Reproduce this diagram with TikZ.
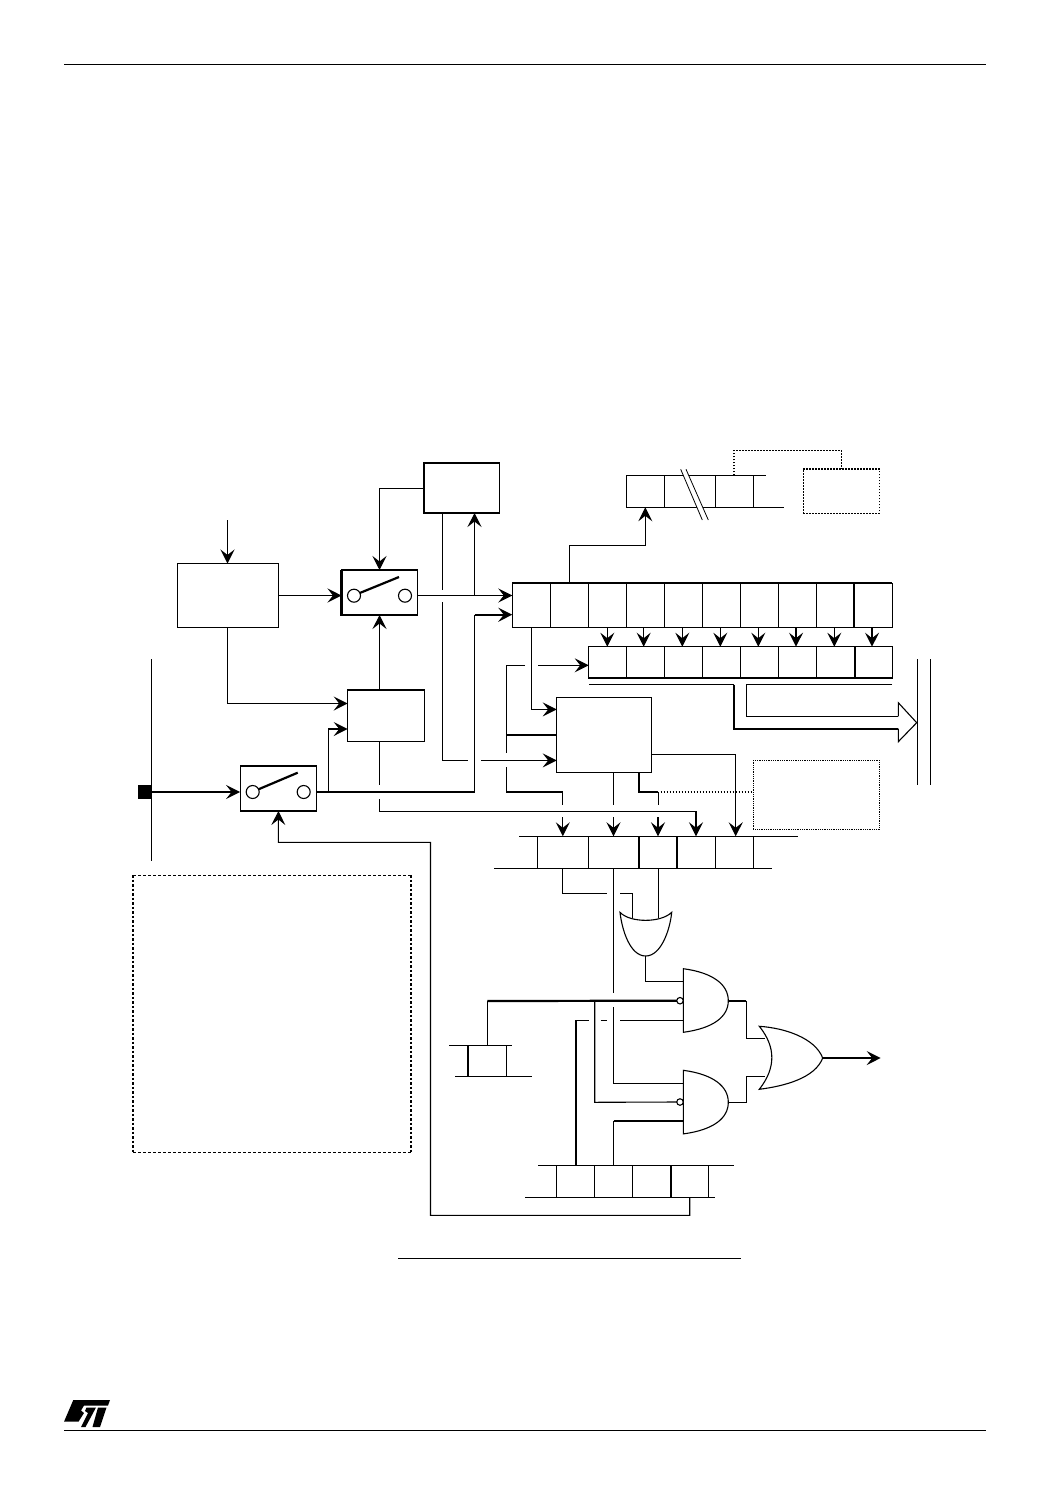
\documentclass[tikz,border=0pt]{standalone}
\usepackage{tikz}
\usetikzlibrary{arrows.meta,calc,shapes}

\begin{document}
\begin{tikzpicture}[
    x=1pt, y=-1pt,
    line width=1.1pt,
    box/.style={rectangle, draw, inner sep=0pt, outer sep=0pt, fill=white},
    knob/.style={circle, draw, inner sep=0pt, outer sep=0pt, minimum size=13pt, fill=white},
    bubble/.style={circle, draw, inner sep=0pt, outer sep=0pt, minimum size=6.5pt, fill=white},
    arrow/.style={-{Stealth[length=14pt, width=14pt, inset=5.5pt]}},
    heavy/.style={line width=2.2pt},
    hair/.style={line width=0.8pt},
    dotline/.style={dash pattern=on 1.6pt off 1.4pt},
    rule/.style={line width=1pt}
]
\useasboundingbox (0,0) rectangle (1048,1488);

% Page rules
\coordinate (headl) at (64,65);
\coordinate (headr) at (986,65);
\coordinate (footl) at (64,1430);
\coordinate (footr) at (986,1430);
\coordinate (captl) at (398,1258);
\coordinate (captr) at (741,1258);
\draw[rule] (headl) -- (headr);
\draw[rule] (footl) -- (footr);
\draw[rule] (captl) -- (captr);

% Logo
\fill (73.3,1400) -- (110,1400) -- (108,1405.5) -- (84,1405.5) -- (81,1410.5) -- (84,1413) -- (78.5,1421.7) -- (64,1421.7) -- cycle;
\fill (86.5,1407.5) -- (96,1407.5) -- (92,1415) -- (85.5,1427) -- (81,1427) -- (88,1413) -- (85,1411) -- cycle;
\fill (98,1407.5) -- (106.5,1407.5) -- (100,1427) -- (92.5,1427) -- cycle;

% Main blocks
\node[box, minimum width=101pt, minimum height=64pt] (trigger) at (228,595.5) {};
\node[box, minimum width=75.5pt, minimum height=50pt] (latch) at (461.7,488) {};
\node[box, minimum width=76pt, minimum height=45pt] (swone) at (379.5,592.5) {};
\node[box, minimum width=76.6pt, minimum height=51.7pt] (edge) at (386,715.8) {};
\node[box, minimum width=76.6pt, minimum height=45pt] (swtwo) at (278.4,788.5) {};
\node[box, minimum width=95pt, minimum height=75pt] (mode) at (604.2,734.8) {};
\draw[heavy] (swone.north west) -- (swone.south west) -- (swone.south east);
\draw[heavy] (latch.north west) -- (latch.north east);

% Switches
\node[knob] (swonea) at (354,595.7) {};
\node[knob] (swoneb) at (405,595.7) {};
\coordinate (swoneend) at (399,577);
\draw[heavy] (swonea.25) -- (swoneend);
\node[knob] (swtwoa) at (252.7,792) {};
\node[knob] (swtwob) at (303.7,792) {};
\coordinate (swtwoend) at (297.7,772.7);
\draw[heavy] (swtwoa.25) -- (swtwoend);

% Pin and bus
\coordinate (pinbust) at (151.5,659);
\coordinate (pinbusb) at (151.5,861);
\draw (pinbust) -- (pinbusb);
\node[box, fill=black, minimum size=13.5pt] (pad) at (144.8,792) {};
\draw[arrow, heavy] (pad.east) -- (pad.east -| swtwo.west);

% Registers
\foreach \i in {0,...,9}
    \node[box, minimum width=38pt, minimum height=44.3pt] (ra\i) at ({531.3+38*\i},605.2) {};
\foreach \i in {0,...,7}
    \node[box, minimum width=38pt, minimum height=31.3pt] (rb\i) at ({607.7+38*\i},662.3) {};
\foreach \n/\x/\w in {0/645.3/38, 1/690/51.4, 2/734.5/37.6}
    \node[box, minimum width=\w pt, minimum height=32pt] (rc\n) at (\x,491.3) {};
\foreach \n/\x/\w in {0/562.8/51, 1/613.7/50.7, 2/658/38, 3/696.3/38.7, 4/734.5/37.6}
    \node[box, minimum width=\w pt, minimum height=32pt] (rd\n) at (\x,852.3) {};
\node[box, minimum width=38.4pt, minimum height=31pt] (re0) at (487.5,1060.8) {};
\foreach \i in {0,...,3}
    \node[box, minimum width=38pt, minimum height=32pt] (rf\i) at ({575.7+38*\i},1181.3) {};

\draw[heavy] (ra0.north west) -- (ra9.north east);
\draw[heavy] (ra9.north west) -- (ra9.south west);
\draw[heavy] (rb0.south west) -- (rb7.south east);
\draw[heavy] (rb7.north west) -- (rb7.south west);
\draw[heavy] (rd2.north west) -- (rd2.south west);
\draw[heavy] (rd3.north west) -- (rd3.south west);
\draw[heavy] (re0.north west) -- (re0.south west);
\draw[heavy] (rf3.north west) -- (rf3.south west);

% Register tails
\coordinate (rcta) at (766,475.3);
\coordinate (rctb) at (784,507.3);
\draw (rc2.north east) -- (rcta);
\draw (rc2.south east) -- (rctb);
\coordinate (rdl1) at (519,836.3);
\coordinate (rdr1) at (798,836.3);
\coordinate (rdl2) at (494,868.3);
\coordinate (rdr2) at (772,868.3);
\draw (rdl1) -- (rdr1);
\draw (rdl2) -- (rdr2);
\coordinate (rel1) at (449,1045.3);
\coordinate (rer1) at (511.7,1045.3);
\coordinate (rel2) at (455,1076.3);
\coordinate (rer2) at (531.7,1076.3);
\draw (rel1) -- (rer1);
\draw (rel2) -- (rer2);
\coordinate (rfl1) at (538.3,1165.3);
\coordinate (rfr1) at (734,1165.3);
\coordinate (rfl2) at (525,1197.3);
\coordinate (rfr2) at (715,1197.3);
\draw (rfl1) -- (rfr1);
\draw (rfl2) -- (rfr2);

% Break mark
\coordinate (brka) at (680.7,469.3);
\coordinate (brkb) at (702.3,520);
\coordinate (brkc) at (686,469.3);
\coordinate (brkd) at (708.3,520);
\fill[white] (brka) -- (brkb) -- (brkd) -- (brkc) -- cycle;
\draw[hair] (brka) -- (brkb);
\draw[hair] (brkc) -- (brkd);

% Dotted blocks
\node[box, dotline, minimum width=76pt, minimum height=44.6pt] (option) at (841.3,491) {};
\node[box, densely dotted, hair, minimum width=126pt, minimum height=69pt] (note) at (816.3,794.8) {};
\node[box, draw=none, minimum width=278pt, minimum height=277pt] (legend) at (272,1013.5) {};
\draw[line width=1pt, dash pattern=on 3pt off 2pt] (legend.north west) -- (legend.north east);
\draw[line width=1pt, dash pattern=on 3pt off 2pt] (legend.south west) -- (legend.south east);
\draw[heavy, dash pattern=on 2.5pt off 2pt] (legend.north west) -- (legend.south west);
\draw[heavy, dash pattern=on 2.5pt off 2pt] (legend.north east) -- (legend.south east);
\draw[dotline, line width=1.8pt] (option.north west) -- (option.north east);
\coordinate (optup) at (734,450.3);
\draw[dotline] (rc2.north -| optup) -- (optup) -- (optup -| option.north) -- (option.north);

% Logic gates
\foreach \n/\y in {andone/968.7, andtwo/1070.3}{
    \coordinate (\n) at (683.3,\y);
    \draw[fill=white] (\n) .. controls +(30,4) and +(0,-16) .. ++(45,32) .. controls +(0,16) and +(30,-4) .. ++(-45,31.6) -- cycle;
}
\node[bubble] (bubone) at (680,1000.7) {};
\node[bubble] (bubtwo) at (680,1102) {};
\coordinate (orin) at (645.7,956);
\draw[fill=white] (620,912.3) .. controls (630,923) and (661,923) .. (671.7,912.3) .. controls (670,930) and (661,956) .. (orin)
      .. controls (630,956) and (622,930) .. cycle;
\coordinate (orout) at (822.7,1058);
\draw[fill=white] (759.3,1026.3) .. controls (785,1028) and (815,1038) .. (orout) .. controls (815,1078) and (785,1086) .. (759.3,1089.3)
      .. controls (776,1068) and (776,1047) .. cycle;

% Arrows in the upper part
\coordinate (trigin) at (227.5,520);
\draw[arrow] (trigin) -- (trigger.north -| trigin);
\draw[arrow] (trigger.east) -- (trigger.east -| swone.west);
\coordinate (swoneout) at (417.5,595.5);
\draw[arrow] (swoneout) -- (swoneout -| ra0.west);
\coordinate (latchup) at (474.5,595.5);
\draw[arrow] (latchup) -- (latchup |- latch.south);
\coordinate (latchl) at (424.2,488.5);
\coordinate (swonein) at (379.5,488.5);
\draw[arrow] (latchl) -- (swonein) -- (swone.north);
\draw[arrow] (edge.north -| swone.north) -- (swone.south);
\coordinate (trigdn) at (227.5,703.5);
\draw[arrow] (trigger.south -| trigdn) -- (trigdn) -- (trigdn -| edge.west);
\coordinate (swtwoup) at (328.5,792);
\coordinate (swtwotp) at (328.5,729);
\draw[arrow] (swtwoup) -- (swtwotp) -- (swtwotp -| edge.west);
\coordinate (mainh) at (474.5,792);
\coordinate (mainv) at (474.5,614.7);
\draw[heavy] (swtwo.east |- mainh) -- (mainh);
\draw (mainh) -- (mainv);
\draw[arrow, heavy] (mainv) -- (mainv -| ra0.west);

% Latch return
\coordinate (latcha) at (442.6,589.5);
\coordinate (latchb) at (442.6,602.3);
\coordinate (latchc) at (442.6,760.4);
\coordinate (latchd) at (468,760.4);
\coordinate (latche) at (481,760.4);
\draw (latch.south -| latcha) -- (latcha);
\draw (latchb) -- (latchc) -- (latchd);
\draw[arrow] (latche) -- (latche -| mode.west);

% Edge block to register
\coordinate (edgea) at (379.5,785);
\coordinate (edgeb) at (379.5,799);
\coordinate (edgec) at (379.5,811.7);
\coordinate (edged) at (696,811.7);
\draw (edge.south -| edgea) -- (edgea);
\draw[arrow] (edgeb) -- (edgec) -- (edged) -- (edged |- rd3.north);

% Register to register
\foreach \i/\x in {2/607.3, 3/643.7, 4/682.3, 5/720.3, 7/796, 8/834.3}
    \draw[arrow] (\x,627.3) -- (\x,646.7);
\foreach \i/\x in {6/758.3, 9/872}
    \draw[arrow, line width=1.6pt] (\x,627.3) -- (\x,646.7);
\coordinate (raup) at (569.3,545.3);
\coordinate (rctop) at (645.3,545.3);
\draw[arrow] (ra1.north -| raup) -- (raup) -- (rctop) -- (rc0.south);

% Hollow arrow to bus
\coordinate (hola) at (589.3,684.7);
\coordinate (holb) at (734,684.7);
\coordinate (holc) at (734,728.7);
\coordinate (hold) at (898.3,728.7);
\coordinate (hole) at (892,684.7);
\coordinate (holf) at (746.3,684.7);
\coordinate (holg) at (746.3,716.3);
\coordinate (holh) at (898.3,716.3);
\draw (hola) -- (holb);
\draw[heavy] (holb) -- (holc) -- (hold);
\draw (hole) -- (holf) -- (holg) -- (holh);
\coordinate (holtop) at (898.3,702.7);
\coordinate (holtip) at (916.7,722.7);
\coordinate (holbot) at (898.3,741.7);
\draw[line join=miter] (holh) -- (holtop) -- (holtip) -- (holbot) -- (hold);
\coordinate (busat) at (917.4,659);
\coordinate (busab) at (917.4,785);
\coordinate (busbt) at (930.4,659);
\coordinate (busbb) at (930.4,785);
\draw (busat) -- (busab);
\draw (busbt) -- (busbb);

% Lines into mode block
\coordinate (modedn) at (531.7,709.4);
\draw[arrow] (ra0.south -| modedn) -- (modedn) -- (modedn -| mode.west);
\coordinate (lefta) at (506.3,665.3);
\coordinate (leftb) at (525,665.3);
\coordinate (leftc) at (538,665.3);
\coordinate (leftd) at (506.3,753.3);
\coordinate (lefte) at (506.3,767.3);
\coordinate (leftf) at (506.3,791.7);
\coordinate (leftg) at (562.8,791.7);
\coordinate (lefth) at (562.8,804.7);
\coordinate (lefti) at (562.8,817.3);
\coordinate (leftj) at (506.3,734.7);
\draw (leftb) -- (lefta) -- (leftd);
\draw[arrow] (leftc) -- (leftc -| rb0.west);
\draw[heavy] (leftj) -- (leftj -| mode.west);
\draw (lefte) -- (leftf);
\draw[heavy] (leftf) -- (leftg);
\draw[hair] (leftg) -- (lefth);
\draw[arrow] (lefti) -- (lefti |- rd0.north);

% Lines out of mode block
\coordinate (moda) at (613.5,804.7);
\coordinate (modb) at (613.5,817.3);
\draw (mode.south -| moda) -- (moda);
\draw[arrow] (modb) -- (modb |- rd1.north);
\coordinate (modc) at (639,791.7);
\coordinate (modd) at (658,791.7);
\coordinate (mode1) at (658,804.7);
\coordinate (modf) at (658,817.3);
\coordinate (modgap) at (660.5,791.7);
\draw[heavy] (mode.south -| modc) -- (modc) -- (modd);
\draw[hair] (modd) -- (mode1);
\draw[arrow] (modf) -- (modf |- rd2.north);
\draw[dotline, line width=1.8pt] (modgap) -- (modgap -| note.west);
\coordinate (modg) at (651.7,754.3);
\coordinate (modh) at (735.7,754.3);
\draw[arrow] (modg) -- (modh) -- (modh |- rd4.north);

% Register to gates
\coordinate (gatea) at (562.3,893.3);
\coordinate (gateb) at (606.7,893.3);
\coordinate (gatec) at (620,893.3);
\coordinate (gated) at (632.7,893.3);
\coordinate (gatee) at (632.7,918);
\coordinate (gatef) at (658.3,918);
\draw (rd0.south -| gatea) -- (gatea) -- (gateb);
\draw (gatec) -- (gated) -- (gatee);
\draw (rd2.south -| gatef) -- (gatef);
\coordinate (longa) at (613.5,993.3);
\coordinate (longb) at (613.5,1007.3);
\coordinate (longc) at (613.5,1083.3);
\draw (rd1.south -| longa) -- (longa);
\draw (longb) -- (longc) -- (longc -| andtwo);
\coordinate (orjoin) at (645.7,981.3);
\draw (orin) -- (orjoin) -- (orjoin -| andone);

% Gate inputs
\coordinate (enaa) at (487.3,1001);
\coordinate (enab) at (594.7,1001);
\coordinate (enac) at (594.7,1102.3);
\draw (re0.north -| enaa) -- (enaa);
\draw[heavy] (enaa) -- (bubone.west);
\draw (enab) -- (enac) -- (bubtwo.west);
\coordinate (seca) at (576,1020.3);
\coordinate (secb) at (589,1020.3);
\coordinate (secc) at (600.7,1020.3);
\coordinate (secd) at (606.7,1020.3);
\coordinate (sece) at (620,1020.3);
\draw[heavy] (rf0.north -| seca) -- (seca);
\draw (seca) -- (secb);
\draw (secc) -- (secd);
\draw (sece) -- (sece -| andone);
\coordinate (thra) at (613.5,1121);
\draw (rf1.north -| thra) -- (thra);
\draw[heavy] (thra) -- (thra -| andtwo);

% Gate outputs
\coordinate (anda) at (728.3,1000.7);
\coordinate (andb) at (746.3,1000.7);
\coordinate (andc) at (746.3,1038.3);
\coordinate (andd) at (765,1038.3);
\draw[heavy] (anda) -- (andb);
\draw (andb) -- (andc) -- (andd);
\coordinate (ande) at (728.3,1102.3);
\coordinate (andf) at (746.3,1102.3);
\coordinate (andg) at (746.3,1076.3);
\coordinate (andh) at (765,1076.3);
\draw (ande) -- (andf) -- (andg) -- (andh);
\coordinate (irq) at (880.7,1058);
\draw[arrow, line width=1.6pt] (orout) -- (irq);

% Return to lower switch
\coordinate (reta) at (689.7,1215.3);
\coordinate (retb) at (430.5,1215.3);
\coordinate (retc) at (430.5,842.3);
\coordinate (retd) at (278.3,842.3);
\draw[arrow] (rf3.south -| reta) -- (reta) -- (retb) -- (retc) -- (retd) -- (swtwo.south);

\end{tikzpicture}
\end{document}
